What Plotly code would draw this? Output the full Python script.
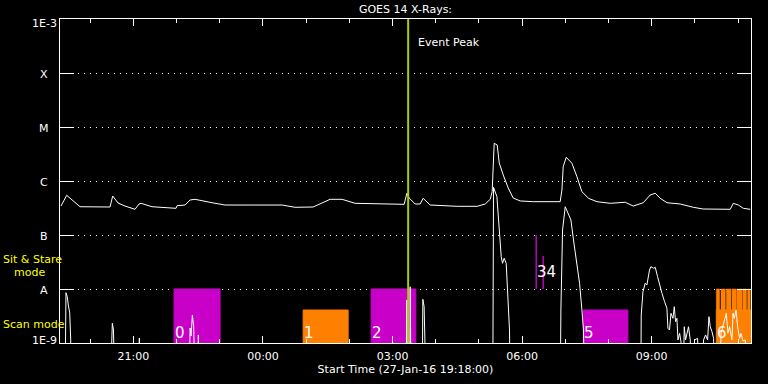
import math
import pandas as pd
import plotly.graph_objects as go

# ---------------- data ----------------
START = pd.Timestamp("2016-01-27 19:18:00")
END = START + pd.Timedelta(hours=16)

# GOES long channel (1-8 A), minutes after start / flux W m^-2
long_min = [1.4, 9.3, 27.8, 69.5, 73.2, 80.6, 90.3, 104.2, 109.8, 112.6, 127.9, 152.9, 161.2, 162.6,
            173.7, 180.7, 187.6, 211.3, 229.3, 271.0, 308.6, 326.6, 340.5, 351.6, 375.3, 391.9, 410.0,
            472.6, 478.1, 481.9, 485.1, 493.4, 500.4, 504.5, 514.3, 551.8, 579.6, 590.7, 597.7, 600.4,
            603.2, 607.4, 610.2, 615.8, 622.7, 629.6, 639.4, 657.4, 694.9, 697.3, 699.1, 703.3, 711.2,
            718.2, 725.1, 734.3, 746.0, 764.4, 785.3, 796.4, 810.3, 820.0, 827.0, 833.9, 843.3, 861.7,
            879.8, 893.7, 914.6, 931.2, 935.4, 942.4, 949.3, 959.0]
long_flux = [3.44e-7, 5.43e-7, 3.34e-7, 3.30e-7, 5.27e-7, 3.92e-7, 3.44e-7, 2.99e-7, 3.75e-7, 3.86e-7,
             3.34e-7, 3.12e-7, 3.12e-7, 3.49e-7, 3.59e-7, 4.45e-7, 4.58e-7, 3.96e-7, 3.59e-7, 3.59e-7,
             3.59e-7, 3.26e-7, 3.26e-7, 3.30e-7, 4.58e-7, 4.58e-7, 3.86e-7, 3.75e-7, 3.70e-7, 5.92e-7,
             4.84e-7, 3.75e-7, 3.75e-7, 4.78e-7, 3.59e-7, 3.40e-7, 3.40e-7, 3.75e-7, 4.58e-7, 6.34e-7,
             4.99e-6, 4.65e-6, 2.16e-6, 1.29e-6, 7.41e-7, 4.84e-7, 4.27e-7, 4.14e-7, 4.14e-7, 6.81e-7,
             1.84e-6, 2.75e-6, 2.13e-6, 1.20e-6, 6.34e-7, 4.78e-7, 4.14e-7, 3.86e-7, 4.04e-7, 3.44e-7,
             3.96e-7, 5.51e-7, 5.92e-7, 4.78e-7, 3.96e-7, 3.75e-7, 3.26e-7, 3.03e-7, 3.03e-7, 2.99e-7,
             3.86e-7, 3.59e-7, 3.12e-7, 2.99e-7]

# GOES short channel (0.5-4 A); 1e-10 = below plotted range
short_min = [0, 6.9, 8.3, 10.1, 11.5, 13.5, 14.9, 16.0, 69.5, 71.6, 72.7, 74.3, 76.4, 109.1, 110.2, 111.9,
             179.3, 180.7, 182.1, 183.9, 185.8, 187.6, 191.0, 192.2, 193.9, 480.9, 481.9, 483.0, 485.8,
             486.5, 487.8, 503.1, 504.1, 505.9, 508.7, 601.2, 602.3, 607.0, 610.6, 613.0, 614.8, 617.1,
             619.9, 621.7, 624.5, 625.5, 694.9, 695.9, 698.2, 701.9, 705.1, 709.8, 713.4, 718.2, 721.8,
             725.1, 727.3, 728.7, 806.8, 807.5, 809.9, 813.0, 815.4, 819.0, 820.9, 824.6, 827.0, 830.2,
             833.9, 836.3, 839.9, 843.2, 844.6, 846.8, 848.8, 851.6, 853.4, 855.2, 857.1, 858.5, 860.8,
             862.7, 865.2, 867.3, 869.1, 873.2, 875.6, 877.9, 881.6, 885.8, 888.6, 894.1, 896.9, 899.7,
             901.6, 903.4, 905.8, 908.0, 910.4, 916.6, 918.3, 921.9, 925.7, 928.0, 930.2, 933.6, 935.0,
             936.8, 939.2, 941.4, 944.2, 946.1, 948.9, 952.1, 954.5, 960.0]
short_flux = [1e-10, 1e-10, 8.53e-9, 7.19e-9, 5.06e-9, 3.60e-9, 1.14e-9, 1e-10, 1e-10, 1.74e-9, 2.32e-9,
              1.74e-9, 1e-10, 1e-10, 1.24e-9, 1e-10, 1e-10, 1.90e-9, 1.35e-9, 3.30e-9, 2.00e-9, 1e-10,
              1e-10, 1.41e-9, 1e-10, 1e-10, 6.25e-9, 1e-10, 1e-10, 1.10e-8, 1e-10, 1e-10, 6.44e-9, 4.70e-9,
              1e-10, 1e-10, 7.64e-7, 5.12e-7, 9.29e-8, 3.96e-8, 2.99e-8, 3.71e-8, 2.99e-8, 9.57e-9, 1.74e-9,
              1e-10, 1e-10, 4.08e-9, 1.24e-7, 3.34e-7, 2.70e-7, 1.90e-7, 8.07e-8, 2.99e-8, 1.28e-8, 4.08e-9,
              1.74e-9, 1e-10, 1e-10, 3.30e-9, 8.91e-9, 1.28e-8, 1.19e-8, 2.25e-8, 2.59e-8, 2.42e-8, 2.52e-8,
              1.69e-8, 1.03e-8, 8.32e-9, 5.82e-9, 4.40e-9, 1.87e-9, 1.74e-9, 3.55e-9, 2.86e-9, 4.70e-9,
              2.48e-9, 2.86e-9, 1.14e-9, 1.51e-9, 1.06e-9, 1e-10, 2.00e-9, 1.14e-9, 2.00e-9, 1.14e-9, 1e-10,
              1.14e-9, 1.22e-9, 1e-10, 1.14e-9, 1.41e-9, 1.14e-9, 3.07e-9, 2.00e-9, 1.62e-9, 1.22e-9, 1e-10,
              1e-10, 1.51e-9, 2.32e-9, 3.55e-9, 1.51e-9, 2.00e-9, 1.14e-9, 3.55e-9, 2.86e-9, 4.08e-9,
              2.00e-9, 1.22e-9, 1.51e-9, 1.09e-9, 1.14e-9, 1e-10, 1e-10]

# IRIS observations
obs_label = ["0", "1", "2", "3", "4", "5", "6"]
obs_kind = ["sit", "raster", "sit", "sit", "sit", "sit", "raster"]
obs_start = [158.4, 337.8, 432.3, 661.6, 671.3, 726.9, 911.8]
obs_end = [222.4, 400.3, 494.4, 661.6, 671.3, 789.0, 963.2]
obs_low = [1e-9, 1e-9, 1e-9, 1e-8, 1e-8, 1e-9, 1e-9]
obs_high = [1e-8, 4.08e-9, 1e-8, 1e-7, 4.1e-8, 4.08e-9, 4.08e-9]
obs_label_flux = [1.53e-9, 1.53e-9, 1.53e-9, 2.09e-8, 2.09e-8, 1.53e-9, 1.53e-9]

# short raster segments at end of day
seg_start = [911.8, 918.3, 925.7, 933.6, 940.0, 948.9, 955.3]
seg_end = [916.4, 924.3, 932.2, 939.2, 947.9, 953.9, 959.0]
seg_low = 4.08e-9
seg_high = 1e-8

event_peak_min = 483.7

ytick_vals = [1e-9, 1e-8, 1e-7, 1e-6, 1e-5, 1e-4, 1e-3]
ytick_text = ["1E-9", "A", "B", "C", "M", "X", "1E-3"]

# ---------------- styling ----------------
KIND_COLOR = {"sit": "#C800C8", "raster": "#FF8000"}
FONT = "DejaVu Sans"


def t(m):
    return START + pd.Timedelta(minutes=m)


fig = go.Figure()

for s, e, lo, hi, k in zip(obs_start, obs_end, obs_low, obs_high, obs_kind):
    c = KIND_COLOR[k]
    fig.add_trace(go.Scatter(x=[t(s), t(e), t(e), t(s), t(s)], y=[lo, lo, hi, hi, lo],
                             mode="lines", fill="toself", fillcolor=c,
                             line=dict(color=c, width=1), hoverinfo="skip"))
for s, e in zip(seg_start, seg_end):
    c = KIND_COLOR["raster"]
    fig.add_trace(go.Scatter(x=[t(s), t(e), t(e), t(s), t(s)],
                             y=[seg_low, seg_low, seg_high, seg_high, seg_low],
                             mode="lines", fill="toself", fillcolor=c,
                             line=dict(color=c, width=0.5), hoverinfo="skip"))

fig.add_trace(go.Scatter(x=[t(m) for m in long_min], y=long_flux, mode="lines",
                         line=dict(color="white", width=1), name="1-8 A"))
fig.add_trace(go.Scatter(x=[t(m) for m in short_min], y=short_flux, mode="lines",
                         line=dict(color="white", width=1), name="0.5-4 A"))

# event peak line
fig.add_trace(go.Scatter(x=[t(event_peak_min), t(event_peak_min)], y=[1e-9, 1e-3], mode="lines",
                         line=dict(color="#A8D000", width=2), hoverinfo="skip"))

ann = []
# y labels
yshift = {"1E-9": 3, "1E-3": -4}
for v, txt in zip(ytick_vals, ytick_text):
    ann.append(dict(x=-16 / 691, xref="paper", y=math.log10(v), yref="y", text=txt, showarrow=False,
                    xanchor="center", yanchor="middle", yshift=yshift.get(txt, -1),
                    font=dict(family=FONT, size=11, color="white")))
# mode labels
for txt, xpx, ylog in [("Sit & Stare", 1, -7.45), ("mode", 12, -7.70), ("Scan mode", 1, -8.654)]:
    ann.append(dict(x=(xpx - 60) / 691, xref="paper", y=ylog, yref="y", text=txt, showarrow=False,
                    xanchor="left", yanchor="middle",
                    font=dict(family=FONT, size=11, color="#FFFF00")))
# observation numbers (labels of observations starting very close together share one text)
groups = []
for lab, s, lf in zip(obs_label, obs_start, obs_label_flux):
    if groups and s - groups[-1][1] < 15 and lf == groups[-1][2]:
        groups[-1][0] += lab
    else:
        groups.append([lab, s, lf])
for lab, s, lf in groups:
    ann.append(dict(x=t(s), xref="x", y=math.log10(lf), yref="y", text=lab, showarrow=False,
                    xanchor="left", yanchor="middle", xshift=-1,
                    font=dict(family=FONT, size=15, color="white")))
ann.append(dict(x=t(event_peak_min), xref="x", y=-3.444, yref="y", text="Event Peak", showarrow=False,
                xanchor="left", yanchor="middle", xshift=8,
                font=dict(family=FONT, size=11, color="white")))

fig.update_layout(
    width=768, height=384,
    margin=dict(l=60, r=17, t=19, b=41, pad=0),
    paper_bgcolor="black", plot_bgcolor="black",
    showlegend=False,
    font=dict(family=FONT, size=11, color="white"),
    title=dict(text="GOES 14 X-Rays:", x=405.5 / 768, xanchor="center", xref="container",
               y=1 - 9 / 384, yanchor="middle", yref="container",
               font=dict(family=FONT, size=11, color="white")),
    annotations=ann,
)
fig.update_xaxes(
    type="date", range=[START, END],
    showline=True, linecolor="white", linewidth=1, mirror="ticks",
    ticks="inside", ticklen=7, tickwidth=1, tickcolor="white",
    tick0="2016-01-27 21:00:00", dtick=3 * 3600000, tickformat="%H:%M",
    tickfont=dict(family=FONT, size=11, color="white"), ticklabelstandoff=3,
    showgrid=False, zeroline=False,
    minor=dict(ticks="inside", ticklen=4, tickcolor="white", tickwidth=1,
               tick0="2016-01-27 21:00:00", dtick=3600000, showgrid=False),
    title=dict(text="Start Time (27-Jan-16 19:18:00)", standoff=0,
               font=dict(family=FONT, size=11, color="white")),
)
fig.update_yaxes(
    type="log", range=[-9, -3],
    showline=True, linecolor="white", linewidth=1, mirror="ticks",
    ticks="inside", ticklen=14, tickwidth=1, tickcolor="white",
    tickvals=ytick_vals, showticklabels=False,
    showgrid=True, gridcolor="white", gridwidth=1, griddash="1px,5px",
    zeroline=False,
)

fig.write_html("out.html", config={"displayModeBar": False},
               post_script="document.body.style.margin='0';document.body.style.background='black';")
